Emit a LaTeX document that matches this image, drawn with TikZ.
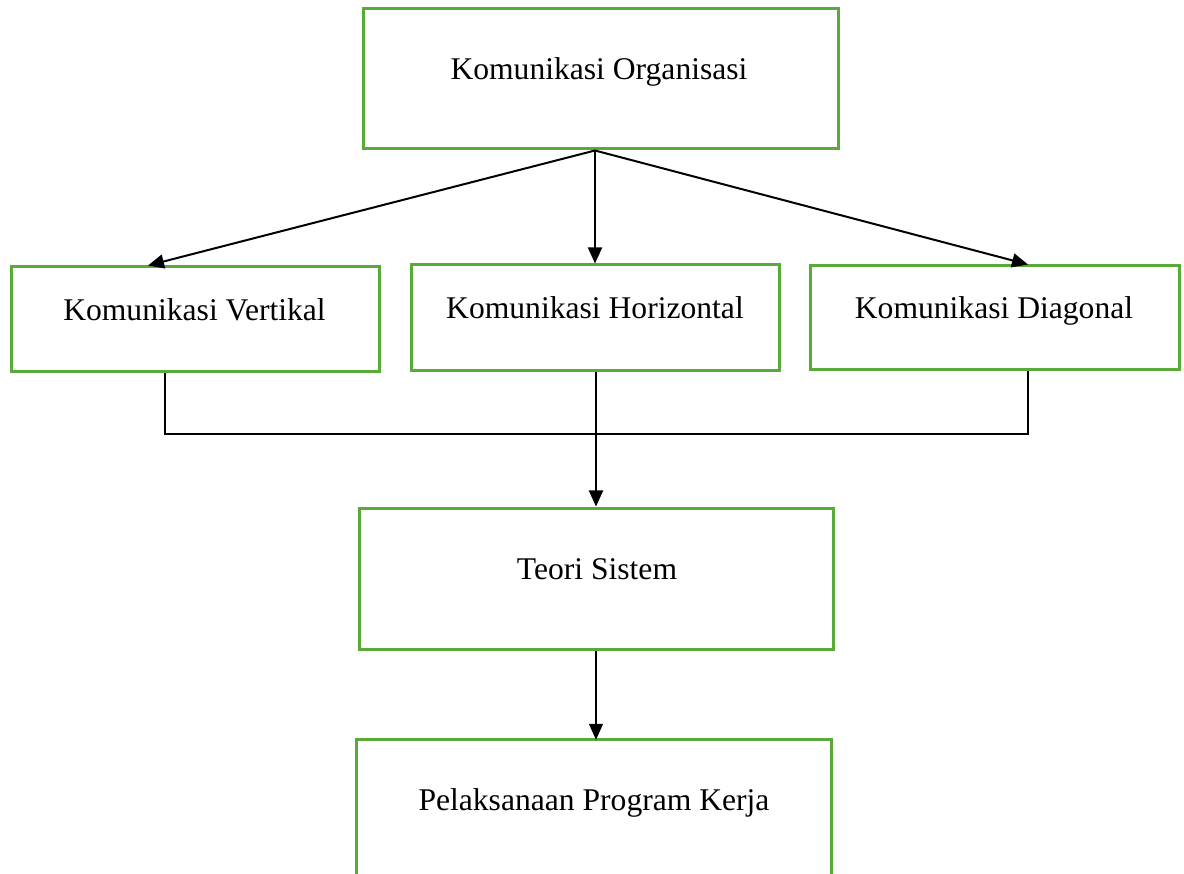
\documentclass[tikz,border=0pt]{standalone}
\usepackage{fontspec}
\setmainfont{Liberation Serif}
\usetikzlibrary{arrows.meta}
\definecolor{boxgreen}{RGB}{90,170,58}
\begin{document}
\begin{tikzpicture}[x=1pt,y=-1pt,
  box/.style={draw=boxgreen,line width=3pt,rectangle,inner sep=0pt},
  txt/.style={anchor=base,inner sep=0pt,font=\fontsize{31.6}{36}\selectfont},
  conn/.style={line width=2pt,black},
  arr/.style={conn,-{Triangle[length=16pt,width=14pt]}}]
\clip (0,0) rectangle (1184,874);
\fill[white] (0,0) rectangle (1184,874);
% boxes
\node[box,minimum width=475pt,minimum height=140pt] (org) at (600.5,79) {};
\node[box,minimum width=368pt,minimum height=105pt] (ver) at (195,319.5) {};
\node[box,minimum width=368pt,minimum height=106pt] (hor) at (595,318) {};
\node[box,minimum width=369pt,minimum height=104pt] (dia) at (994.5,318) {};
\node[box,minimum width=474pt,minimum height=141pt] (teo) at (596,578.5) {};
\node[inner sep=0pt,minimum width=474pt,minimum height=150pt] (pel) at (594,815) {};
\draw[draw=boxgreen,line width=3pt] (pel.south west) -- (pel.north west) -- (pel.north east) -- (pel.south east);
% texts
\node[txt] (torg) at (599,80) {Komunikasi Organisasi};
\node[txt] (tver) at (194.5,320.5) {Komunikasi Vertikal};
\node[txt] (thor) at (595,318.5) {Komunikasi Horizontal};
\node[txt] (tdia) at (994,318.5) {Komunikasi Diagonal};
\node[txt] (tteo) at (597,579) {Teori Sistem};
\node[txt] (tpel) at (594,810.5) {Pelaksanaan Program Kerja};
% coordinates
\coordinate (apex) at (595,150.5);
\coordinate (lt) at (148,0);
\coordinate (rt) at (1028,0);
\coordinate (jl) at (165,434);
\coordinate (jm) at (596,434);
\coordinate (jr) at (1028,434);
% connectors
\draw[arr] (apex) -- (lt |- ver.north);
\draw[arr] (apex) -- (hor.north);
\draw[arr] (apex) -- (rt |- dia.north);
\draw[conn] (jl |- ver.south) -- (jl) -- (jr) -- (jr |- dia.south);
\draw[arr] (jm |- hor.south) -- (jm |- teo.north);
\draw[arr,line width=1.2pt] (teo.south) -- (teo.south |- pel.north);
\end{tikzpicture}
\end{document}
